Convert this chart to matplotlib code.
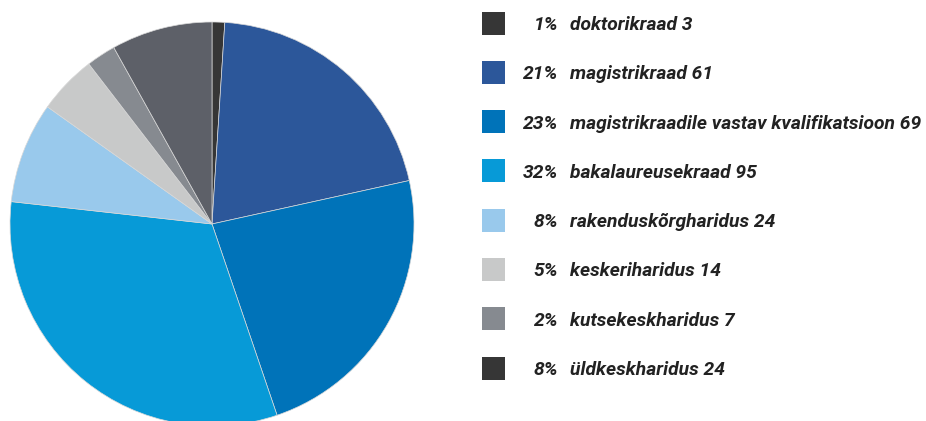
import matplotlib
matplotlib.use("Agg")
import matplotlib.pyplot as plt
from matplotlib.patches import Rectangle

categories = ["doktorikraad", "magistrikraad", "magistrikraadile vastav kvalifikatsioon",
              "bakalaureusekraad", "rakenduskõrgharidus", "keskeriharidus",
              "kutsekeskharidus", "üldkeskharidus"]
values = [3, 61, 69, 95, 24, 14, 7, 24]
percents = [1, 21, 23, 32, 8, 5, 2, 8]
pie_colors = ["#363636", "#2c579a", "#0073b9", "#079ad7", "#99c9ec", "#c8c9c9", "#868a90", "#5d6068"]
legend_colors = ["#363636", "#2c579a", "#0073b9", "#079ad7", "#99c9ec", "#c8c9c9", "#868a90", "#363636"]

W, H = 926, 421
fig = plt.figure(figsize=(W / 100, H / 100), dpi=100)
ax = fig.add_axes([0, 0, 1, 1])
ax.set_xlim(0, W)
ax.set_ylim(0, H)
ax.set_aspect("equal")
ax.axis("off")

cx, cy, r = 212, H - 224, 202
ax.pie(values, colors=pie_colors, startangle=90, counterclock=False,
       center=(cx, cy), radius=r, frame=True,
       wedgeprops=dict(edgecolor="#d8d8d8", linewidth=0.5))
ax.set_xlim(0, W)
ax.set_ylim(0, H)
ax.axis("off")

row0, step = 23, 49.3
fs = 13.9
for i, (cat, val, pct, col) in enumerate(zip(categories, values, percents, legend_colors)):
    yc = H - (row0 + i * step)
    ax.add_patch(Rectangle((482, yc - 11.5), 23, 23, facecolor=col, edgecolor="none"))
    ax.text(558, yc, f"{pct}%", ha="right", va="center_baseline", fontsize=fs,
            fontfamily="Roboto", fontweight="bold", style="italic", color="#222222")
    ax.text(570, yc, f"{cat} {val}", ha="left", va="center_baseline", fontsize=fs,
            fontfamily="Roboto", fontweight="bold", style="italic", color="#222222")

fig.savefig("out.png", dpi=100)
